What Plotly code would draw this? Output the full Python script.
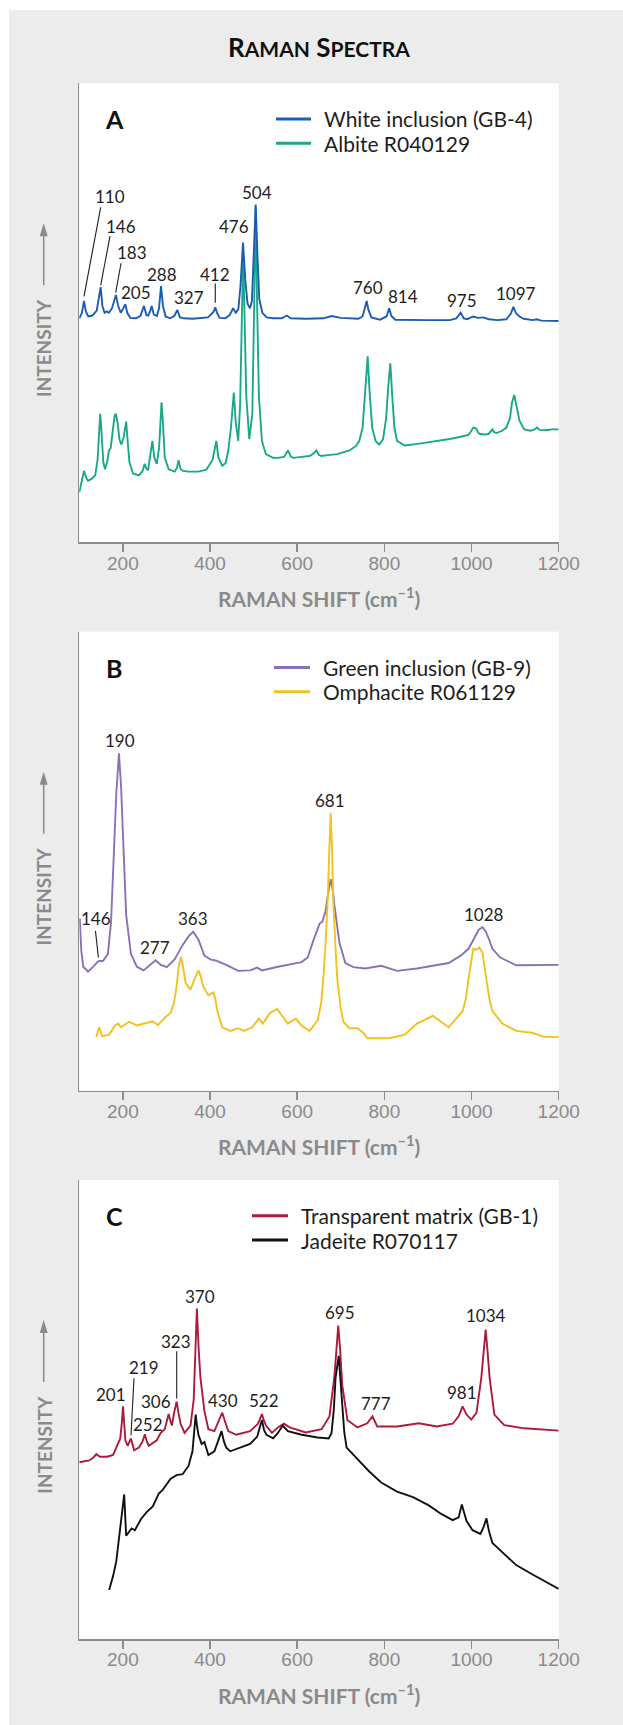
import plotly.graph_objects as go

W, H = 623, 1725

# ---------------- data (x = Raman shift in cm-1, y = relative intensity, 0-100 of panel) ----------------
tick_vals = [200, 400, 600, 800, 1000, 1200]

# Panel A
a_white_x = [100, 106, 110.8, 115, 120.7, 130, 140, 145, 149, 153, 158, 163, 168, 175, 180, 184, 189, 195, 200,
             205.6, 210, 217, 230, 240, 248.5, 254, 258, 262, 266, 271, 278, 283, 287.5, 292, 298, 308, 318, 325,
             331, 340, 360, 380, 395, 403, 408, 412, 416, 422, 435, 445, 453, 459, 465, 470, 475.6, 481, 486,
             491.7, 496, 500, 504.7, 509, 513, 520, 530, 545, 565, 576, 585, 620, 660, 679, 700, 740, 750, 755,
             759.4, 763, 770, 790, 805, 811, 816, 825, 860, 900, 950, 965, 975, 982, 990, 1004, 1015, 1027, 1040,
             1060, 1080, 1090, 1096, 1102, 1110, 1120, 1140, 1150, 1160, 1200]
a_white_y = [48.8, 50.0, 52.6, 50.3, 49.2, 49.4, 50.5, 53.0, 55.6, 51.5, 50.0, 50.3, 50.0, 51.0, 53.0, 53.9, 51.6, 50.0,
             50.8, 51.9, 50.0, 48.9, 48.8, 49.3, 51.5, 49.5, 49.4, 50.2, 51.5, 49.6, 49.3, 51.0, 55.8, 51.5, 49.2,
             48.8, 49.3, 50.6, 49.0, 48.8, 48.7, 48.9, 49.0, 49.7, 50.2, 51.2, 50.0, 48.9, 48.8, 49.5, 51.0, 50.0,
             50.8, 56.0, 65.3, 57.0, 52.0, 51.0, 52.5, 62.0, 73.6, 62.0, 53.0, 50.0, 49.0, 48.8, 48.8, 49.4, 48.8,
             48.7, 48.8, 49.3, 48.9, 48.7, 49.2, 51.0, 52.6, 50.8, 49.0, 48.5, 49.2, 51.0, 49.3, 48.5, 48.4, 48.4,
             48.4, 48.8, 50.0, 48.8, 48.6, 49.2, 48.9, 49.0, 48.6, 48.4, 48.6, 49.8, 51.3, 49.9, 49.2, 48.7, 48.4,
             48.6, 48.3, 48.2]

a_albite_x = [100, 104, 111, 116, 120, 128, 136.5, 142, 146, 148, 151, 155, 159, 164, 168, 172, 177, 181, 184, 188,
              192, 196, 201, 205, 207.5, 211, 215, 223, 236.7, 245, 250, 254, 258, 262, 267.7, 272, 277.7, 283,
              288.7, 292, 296, 305, 318.7, 324, 327.9, 332, 337, 350, 373, 391.6, 400.8, 406, 410, 414.4, 419,
              428, 436, 441.8, 448, 454.5, 459, 464.6, 469, 473, 476, 479, 483, 490, 497, 501, 504.5, 508, 512,
              519, 528, 545, 555.7, 570, 578.5, 586, 592, 610, 628.6, 638, 644, 650, 656, 670, 692, 705, 720, 735,
              742.5, 750, 756, 761.7, 766, 772, 780, 788, 797, 804, 809, 813.6, 818, 823, 829, 847, 880, 920, 950,
              975, 993, 999, 1004, 1011, 1016, 1020, 1030, 1039, 1044, 1048, 1052, 1057, 1070, 1080, 1088, 1093,
              1098, 1103, 1110, 1121, 1135, 1145, 1150, 1156, 1170, 1185, 1200]
a_albite_y = [10.9, 12.5, 15.6, 14.0, 13.4, 13.8, 14.6, 18.0, 25.0, 28.0, 24.0, 17.5, 15.9, 17.5, 20.0, 20.5, 24.5,
              27.5, 28.0, 26.0, 22.5, 21.3, 22.5, 25.5, 26.3, 22.0, 17.5, 15.0, 14.6, 15.5, 17.1, 16.0, 15.8, 18.5,
              22.1, 18.5, 17.1, 20.5, 30.5, 26.0, 18.5, 15.9, 15.4, 16.2, 17.9, 16.0, 15.6, 15.4, 15.4, 15.8, 17.1,
              18.0, 20.0, 22.1, 18.5, 16.7, 17.3, 20.0, 25.0, 32.6, 26.0, 22.1, 30.0, 48.0, 63.0, 50.0, 32.0, 22.5,
              28.0, 50.0, 73.0, 52.0, 32.0, 22.1, 19.2, 18.4, 18.4, 18.6, 20.0, 18.6, 18.4, 18.6, 18.8, 19.4, 20.0,
              19.0, 18.8, 19.0, 19.2, 19.6, 20.0, 21.0, 22.1, 25.0, 32.0, 40.5, 33.0, 25.0, 22.0, 21.3, 22.5, 27.0,
              34.0, 39.0, 32.0, 25.0, 22.1, 21.1, 21.5, 22.0, 22.5, 23.0, 23.4, 24.2, 25.0, 24.8, 23.8, 23.6, 23.5,
              23.6, 24.3, 24.6, 24.0, 23.8, 24.3, 25.0, 27.0, 30.5, 32.1, 29.5, 26.5, 24.6, 24.3, 24.6, 25.0, 24.5,
              24.4, 24.6, 24.6]

# Panel B
b_green_x = [101, 104.6, 109, 120, 132, 143.7, 154.7, 165.6, 172.9, 180.2, 185, 191, 196, 200, 207.5, 218.5, 232,
             247.6, 262, 275, 287, 300.5, 318.7, 337, 350.6, 361.6, 373.4, 387, 400.8, 414.4, 437, 464.6, 492,
             508.3, 519, 555.7, 610, 624, 637.7, 651.4, 657.8, 665, 671, 676.9, 682, 686, 697, 710.6, 728.9, 756,
             792.7, 829, 874.7, 920, 947.6, 975, 993, 1006.8, 1016, 1025, 1032, 1038.8, 1047.9, 1066, 1102.5, 1200]
b_green_y = [37.5, 30.5, 27.0, 25.9, 27.0, 28.2, 28.3, 29.8, 36.8, 52.3, 65.0, 73.5, 66.0, 56.2, 38.3, 29.8, 27.0,
             26.2, 27.4, 28.4, 27.4, 26.9, 28.6, 31.7, 33.6, 34.6, 32.9, 29.4, 28.6, 28.3, 27.4, 26.1, 26.2, 26.8,
             26.2, 27.0, 28.0, 29.0, 32.9, 36.4, 36.8, 39.1, 43.0, 46.1, 43.5, 39.9, 32.1, 27.8, 26.9, 26.6, 27.2,
             26.1, 26.6, 27.3, 27.8, 29.4, 30.9, 33.3, 35.0, 35.6, 34.8, 33.3, 30.9, 29.0, 27.3, 27.4]

b_omph_x = [139, 145.6, 152.9, 168.4, 182, 189, 195.7, 214, 232, 250, 268.6, 280.5, 296, 309.6, 318, 323.3, 328,
            333.3, 338, 344, 355, 364.3, 373.4, 378, 384.4, 396, 408, 412, 417, 428, 446, 464.6, 478, 496.5, 512,
            521, 537.5, 553.9, 566.7, 578.5, 596.7, 610, 628.6, 646.8, 655, 660.5, 665, 669.6, 673.5, 677, 680,
            683, 688, 692, 699, 706, 719.7, 738, 751.7, 760.8, 811, 847, 874.7, 911, 947.6, 979.5, 987, 993, 1004,
            1011.4, 1017.8, 1025, 1034, 1041, 1048, 1070.6, 1102.5, 1139, 1166, 1200]
b_omph_y = [11.7, 13.8, 11.8, 12.2, 14.2, 14.6, 13.8, 15.0, 14.2, 14.6, 15.1, 14.3, 15.9, 16.9, 19.5, 22.7, 27.0,
            29.1, 27.0, 23.5, 22.0, 24.3, 26.2, 25.0, 22.7, 20.8, 21.4, 20.0, 17.3, 13.8, 13.0, 13.6, 13.0, 13.8,
            15.7, 14.6, 16.9, 17.8, 16.1, 14.6, 15.7, 14.2, 13.0, 15.3, 19.0, 25.1, 32.0, 40.7, 52.0, 60.5, 52.0,
            40.7, 31.0, 24.3, 18.5, 15.0, 13.6, 13.6, 12.6, 11.4, 11.4, 12.2, 14.6, 16.3, 13.8, 17.3, 20.0, 24.3,
            30.9, 30.7, 31.2, 30.1, 24.3, 20.0, 17.3, 14.6, 13.0, 12.6, 11.7, 11.7]

# Panel C
c_matrix_x = [100, 122.8, 132, 139, 147.4, 163.8, 177.5, 186.6, 194, 197.5, 200.3, 203, 205.7, 211, 218.5, 225.8,
              236.7, 245, 250.4, 255, 259.5, 277.7, 286.8, 296, 301, 305, 309, 312.4, 318, 323.3, 328, 332.4, 341.5,
              355.2, 362.5, 366.5, 369.8, 374, 378, 387, 396.2, 409.9, 420, 428, 434, 441.8, 460, 492, 510, 519,
              524, 528.4, 542, 555.7, 569.4, 583, 619.5, 656, 674, 685, 690, 694.2, 698.5, 703.3, 715.2, 738, 760.8,
              772.6, 783.6, 829, 879.2, 920.3, 956.7, 970.4, 979.5, 988.6, 999.5, 1011.4, 1022.4, 1028, 1032.4,
              1036.5, 1041.5, 1052.4, 1075, 1120.8, 1200]
c_matrix_y = [38.5, 38.9, 39.5, 40.3, 39.7, 39.7, 40.1, 42.1, 43.7, 47.0, 50.7, 47.0, 43.3, 42.1, 43.7, 41.1, 41.7,
              43.0, 44.6, 43.0, 42.1, 43.3, 44.9, 45.7, 47.5, 49.0, 47.5, 46.5, 49.5, 51.7, 49.0, 46.9, 44.9, 46.5,
              52.1, 62.0, 72.0, 63.0, 56.9, 49.7, 45.7, 45.3, 47.5, 49.3, 47.5, 45.3, 44.5, 45.3, 46.9, 49.0, 47.5,
              46.5, 44.9, 46.1, 46.9, 46.1, 45.0, 45.7, 48.5, 56.9, 63.0, 68.3, 63.0, 55.3, 47.7, 46.1, 47.0, 48.5,
              46.3, 46.3, 47.0, 46.3, 46.9, 48.5, 50.7, 48.9, 47.8, 49.3, 56.9, 63.0, 67.4, 63.0, 56.9, 48.9, 46.6,
              45.9, 45.4]

c_jade_x = [168.4, 177.5, 184.8, 191, 197.5, 203, 207.5, 214, 220, 227.6, 241.3, 255, 268.6, 282.3, 291.4, 309.6,
            323.3, 337, 350.6, 359.7, 363.5, 367, 370, 373.4, 380.7, 387, 396.2, 409.9, 418, 426.3, 432, 437.2,
            446.3, 464.6, 492, 508.3, 519, 524, 529.4, 544.8, 555.7, 566.7, 578.5, 610.4, 646.8, 672.4, 678.8, 684,
            688, 695.2, 699, 703.3, 708, 713.4, 738, 765.3, 792.7, 829, 865.6, 902, 929.4, 956.7, 970.4, 977.7, 983,
            988.6, 1002.3, 1020.5, 1028, 1034.2, 1040, 1047.9, 1075.2, 1102.5, 1139, 1200]
c_jade_y = [10.7, 13.7, 16.9, 21.7, 26.5, 31.5, 22.5, 23.3, 24.1, 23.7, 26.1, 27.7, 28.9, 31.7, 32.5, 34.9, 35.7,
            35.9, 37.7, 40.9, 45.0, 48.9, 46.5, 44.5, 42.5, 42.9, 40.1, 40.9, 43.0, 45.3, 43.0, 41.7, 40.9, 41.5,
            42.5, 44.1, 47.7, 45.5, 44.5, 43.7, 44.9, 46.5, 45.3, 44.5, 43.9, 43.7, 44.9, 50.0, 56.9, 61.7, 56.0,
            50.5, 45.0, 41.7, 39.3, 36.5, 34.1, 32.1, 30.9, 29.1, 27.3, 25.9, 26.5, 29.3, 27.5, 25.7, 23.7, 22.9,
            24.5, 26.3, 23.5, 20.9, 18.5, 16.1, 14.1, 10.9]

# Peak labels (text, label x, label y) and leader lines (x0, y0, x1, y1)
a_label_text = ['110', '146', '183', '205', '288', '327', '412', '476', '504', '760', '814', '975', '1097']
a_label_x = [170.4, 195.7, 220.2, 230.1, 289.1, 351.7, 412.0, 455.0, 507.0, 762.4, 842.0, 979.2, 1101.6]
a_label_y = [75.3, 68.9, 63.1, 54.5, 58.4, 53.3, 58.4, 68.8, 76.3, 55.5, 53.5, 52.6, 54.1]
a_leaders = [(149.1, 73.0, 110.8, 53.6), (170.4, 66.7, 149.1, 56.0), (195.7, 60.8, 183.5, 54.4),
             (412.0, 56.4, 412.0, 52.2)]

b_label_text = ['190', '146', '277', '363', '681', '1028']
b_label_x = [194.3, 138.0, 273.7, 362.0, 674.8, 1028.6]
b_label_y = [76.2, 37.4, 31.1, 37.4, 63.3, 38.3]
b_leaders = [(137.1, 34.8, 143.7, 29.0)]

c_label_text = ['201', '219', '252', '306', '323', '370', '430', '522', '695', '777', '981', '1034']
c_label_x = [172.7, 248.5, 258.3, 276.0, 321.2, 377.0, 430.4, 523.8, 698.2, 781.2, 977.4, 1033.0]
c_label_y = [53.3, 59.1, 46.8, 51.7, 64.9, 74.7, 51.9, 51.9, 71.2, 51.4, 53.8, 70.4]
c_leaders = [(225.5, 56.8, 218.6, 44.4), (323.5, 62.7, 323.5, 52.4)]

series_names = {
    'A': ['White inclusion (GB-4)', 'Albite R040129'],
    'B': ['Green inclusion (GB-9)', 'Omphacite R061129'],
    'C': ['Transparent matrix (GB-1)', 'Jadeite R070117'],
}

# ---------------- style ----------------
BG = '#ececec'
AX = '#8c8c8c'
TXT_GRAY = '#8a8a8a'
DARK = '#1e1e1e'
LABEL_FONT = 'Lato, Noto Sans, sans-serif'
TICK_FONT = 'Liberation Sans, Arial, sans-serif'

X0, X1 = 79.3, 558.7
panel_px = {'A': (83.3, 542.3), 'B': (631.7, 1090.6), 'C': (1180.0, 1639.0)}
legend_px = {'A': (276, 311, 322), 'B': (274, 310, 321), 'C': (252, 288, 299)}


def fx(px):
    return px / W


def fy(py):
    return 1 - py / H


fig = go.Figure()

panels = [
    ('A', '', a_white_x, a_white_y, '#1a5db4', a_albite_x, a_albite_y, '#19a98a',
     a_label_text, a_label_x, a_label_y, a_leaders, True),
    ('B', '2', b_green_x, b_green_y, '#8c70b6', b_omph_x, b_omph_y, '#f2c11f',
     b_label_text, b_label_x, b_label_y, b_leaders, False),
    ('C', '3', c_matrix_x, c_matrix_y, '#ae1a3b', c_jade_x, c_jade_y, '#111111',
     c_label_text, c_label_x, c_label_y, c_leaders, False),
]

annotations = []
shapes = []

# white strips around gray card
shapes.append(dict(type='rect', xref='paper', yref='paper', x0=0, x1=fx(9), y0=0, y1=1,
                   fillcolor='white', line=dict(width=0), layer='below'))
shapes.append(dict(type='rect', xref='paper', yref='paper', x0=0, x1=1, y0=fy(10), y1=1,
                   fillcolor='white', line=dict(width=0), layer='below'))

for key, suf, x1s, y1s, c1, x2s, y2s, c2, ltxt, lx, ly, leaders, second_on_bottom in panels:
    top, bot = panel_px[key]
    xa, ya = 'x' + suf, 'y' + suf
    n1, n2 = series_names[key]
    t1 = go.Scatter(x=x1s, y=y1s, mode='lines', name=n1, line=dict(color=c1, width=1.9),
                    xaxis=xa, yaxis=ya, showlegend=False, hoverinfo='skip')
    t2 = go.Scatter(x=x2s, y=y2s, mode='lines', name=n2, line=dict(color=c2, width=1.9),
                    xaxis=xa, yaxis=ya, showlegend=False, hoverinfo='skip')
    if second_on_bottom:
        fig.add_trace(t2)
        fig.add_trace(t1)
    else:
        fig.add_trace(t1)
        fig.add_trace(t2)

    xname = 'xaxis' + suf
    yname = 'yaxis' + suf
    fig.layout[xname] = dict(
        domain=[fx(X0), fx(X1)], anchor=ya, range=[100, 1200], tickvals=tick_vals,
        ticks='outside', ticklen=8, tickwidth=1.5, tickcolor=AX, automargin=False,
        ticklabelstandoff=-5,
        showline=True, linecolor=AX, linewidth=1.5, showgrid=False, zeroline=False,
        tickfont=dict(family=TICK_FONT, size=19, color=TXT_GRAY), fixedrange=True,
    )
    fig.layout[yname] = dict(
        domain=[fy(bot), fy(top)], anchor=xa, range=[0, 100], automargin=False,
        showline=True, linecolor=AX, linewidth=1.5, showticklabels=False, ticks='',
        showgrid=False, zeroline=False, fixedrange=True,
    )

    # legend (line samples + names)
    lx0, lx1, tx = legend_px[key]
    for row, (name, col) in enumerate([(n1, c1), (n2, c2)]):
        yrow = top + 35.7 + row * 24.3
        shapes.append(dict(type='line', xref='paper', yref='paper', x0=fx(lx0), x1=fx(lx1),
                           y0=fy(yrow), y1=fy(yrow), line=dict(color=col, width=3)))
        annotations.append(dict(x=fx(tx), y=fy(yrow), xref='paper', yref='paper', text=name,
                                xanchor='left', yanchor='middle', showarrow=False,
                                font=dict(family=LABEL_FONT, size=21, color=DARK)))

    # x-axis title
    annotations.append(dict(x=fx(319), y=fy(bot + 54.5), xref='paper', yref='paper',
                            xanchor='center', yanchor='middle', showarrow=False,
                            text='<b>RAMAN SHIFT (cm<sup>–1</sup>)</b>',
                            font=dict(family=LABEL_FONT, size=21, color=TXT_GRAY)))

    # peak labels
    for t, x, y in zip(ltxt, lx, ly):
        annotations.append(dict(x=x, y=y, xref=xa, yref=ya, text=t, showarrow=False,
                                font=dict(family=LABEL_FONT, size=17, color=DARK)))
    for (xa0, ya0, xa1, ya1) in leaders:
        shapes.append(dict(type='line', xref=xa, yref=ya, x0=xa0, y0=ya0, x1=xa1, y1=ya1,
                           line=dict(color=DARK, width=1.1)))

    # panel letter
    annotations.append(dict(x=fx(114), y=fy(top + 36), xref='paper', yref='paper',
                            xanchor='center', yanchor='middle',
                            text='<b>%s</b>' % key, showarrow=False,
                            font=dict(family=LABEL_FONT, size=25, color='#111111')))
    # y-axis title
    annotations.append(dict(x=fx(43.7), y=fy(top + 265), xref='paper', yref='paper',
                            xanchor='center', yanchor='middle',
                            text='<b>INTENSITY</b>', textangle=-90, showarrow=False,
                            font=dict(family=LABEL_FONT, size=19, color=TXT_GRAY)))
    # arrow next to the y-axis title (line + triangular head)
    shapes.append(dict(type='line', xref='paper', yref='paper', x0=fx(43.7), x1=fx(43.7),
                       y0=fy(top + 202), y1=fy(top + 150), line=dict(color=TXT_GRAY, width=1.5)))
    shapes.append(dict(type='path', xref='paper', yref='paper',
                       path='M %f %f L %f %f L %f %f Z' % (fx(39.7), fy(top + 153), fx(43.7), fy(top + 140),
                                                          fx(47.7), fy(top + 153)),
                       fillcolor=TXT_GRAY, line=dict(width=0)))

# chart title (small caps)
annotations.append(dict(
    x=fx(319), y=fy(47), xref='paper', yref='paper', showarrow=False, xanchor='center', yanchor='middle',
    text="<b>R<span style='font-size:21px'>AMAN</span> S<span style='font-size:21px'>PECTRA</span></b>",
    font=dict(family=LABEL_FONT, size=26, color='#111111')))

fig.update_layout(
    template='none',
    width=W, height=H, autosize=False, margin=dict(l=0, r=0, t=0, b=0, pad=0, autoexpand=False),
    paper_bgcolor=BG, plot_bgcolor='white',
    annotations=annotations, shapes=shapes, showlegend=False,
)

fig.write_html('out.html',
               config={'responsive': False, 'displayModeBar': False, 'staticPlot': True},
               post_script="document.documentElement.style.margin='0px';"
                           "document.body.style.margin='0px';"
                           "document.documentElement.style.overflow='hidden';"
                           "document.body.style.overflow='hidden';")
